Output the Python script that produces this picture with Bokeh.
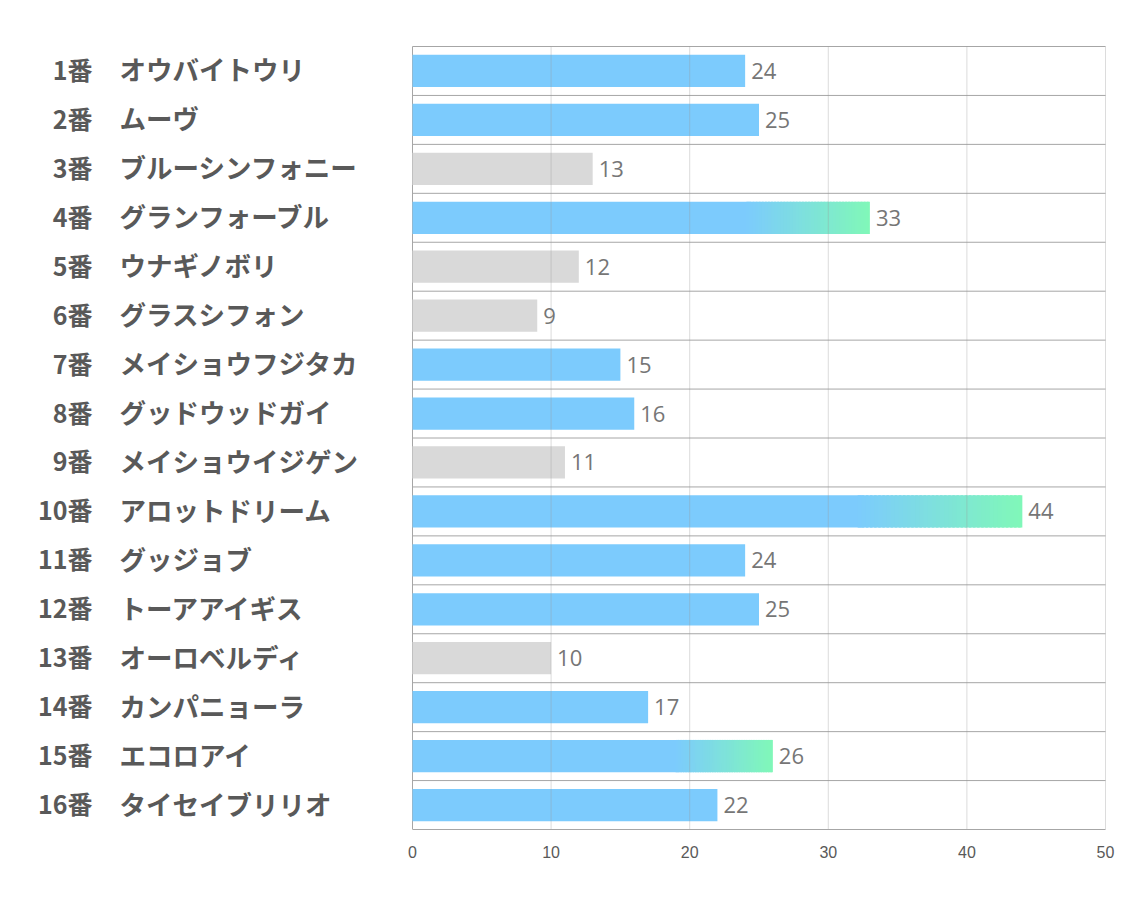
from bokeh.plotting import figure
from bokeh.models import Range1d, FixedTicker
from bokeh.core.properties import value
from bokeh.embed import file_html
from bokeh.resources import INLINE

# ---- data ----
numbers = ["1番", "2番", "3番", "4番", "5番", "6番", "7番", "8番",
           "9番", "10番", "11番", "12番", "13番", "14番", "15番", "16番"]
names = ["オウバイトウリ", "ムーヴ", "ブルーシンフォニー", "グランフォーブル",
         "ウナギノボリ", "グラスシフォン", "メイショウフジタカ", "グッドウッドガイ",
         "メイショウイジゲン", "アロットドリーム", "グッジョブ", "トーアアイギス",
         "オーロベルディ", "カンパニョーラ", "エコロアイ", "タイセイブリリオ"]
values = [24, 25, 13, 33, 12, 9, 15, 16, 11, 44, 24, 25, 10, 17, 26, 22]
kinds = ["blue", "blue", "gray", "grad", "gray", "gray", "blue", "blue",
         "gray", "grad", "blue", "blue", "gray", "blue", "grad", "blue"]
x_ticks = [0, 10, 20, 30, 40, 50]

BLUE = (124, 203, 253)
GREEN = (128, 248, 184)
GRAY = "#d9d9d9"

n = len(values)
k = (1105 - 412) / 50.0          # px per unit
row_h = (829 - 46) / n

p = figure(width=1134, height=907, output_backend="svg", toolbar_location=None,
           x_range=Range1d(-412 / k, (1134 - 412) / k),
           y_range=Range1d(n, -46 / row_h),
           y_axis_location=None, min_border_left=0, min_border_right=0,
           min_border_top=0, min_border_bottom=78)
p.outline_line_color = None
p.xgrid.visible = False
p.ygrid.visible = False

ys = [i + 0.5 for i in range(n)]

# horizontal row lines
hy = list(range(n))
p.segment(x0=[0] * len(hy), x1=[50] * len(hy), y0=hy, y1=hy,
          line_color="#a6a6a6", line_width=1)
# left line
p.segment(x0=[0], x1=[0], y0=[0], y1=[n], line_color="#a6a6a6", line_width=1)

# bars
bar_h = 0.66
N = 40
solid_y, solid_r, solid_c = [], [], []
for y, v, kd in zip(ys, values, kinds):
    if kd == "gray":
        solid_y.append(y); solid_r.append(v); solid_c.append(GRAY)
    elif kd == "blue":
        solid_y.append(y); solid_r.append(v); solid_c.append("#%02x%02x%02x" % BLUE)
    else:
        solid_y.append(y); solid_r.append(v * 0.73 + v * 0.27 / N)
        solid_c.append("#%02x%02x%02x" % BLUE)
p.hbar(y=solid_y, left=0, right=solid_r, height=bar_h, fill_color=solid_c,
       line_color=None)

gy, gl, gr, gc = [], [], [], []
for y, v, kd in zip(ys, values, kinds):
    if kd != "grad":
        continue
    start = v * 0.73
    span = v - start
    for j in range(N):
        t = (j + 0.5) / N
        c = tuple(int(round(BLUE[m] + (GREEN[m] - BLUE[m]) * t)) for m in range(3))
        gy.append(y)
        gl.append(start + span * j / N)
        gr.append(start + span * (j + 1) / N + (span / N * 0.6 if j < N - 1 else 0))
        gc.append("#%02x%02x%02x" % c)
p.hbar(y=gy, left=gl, right=gr, height=bar_h, fill_color=gc, line_color=None)

# vertical grid lines (drawn above bars, faint)
vx = x_ticks[1:]
p.segment(x0=vx, x1=vx, y0=[0] * len(vx), y1=[n] * len(vx),
          line_color="#9a9a9a", line_alpha=0.35, line_width=1)

# value labels
p.text(x=values, y=ys, text=[str(v) for v in values], x_offset=6,
       text_align="left", text_baseline="middle",
       text_font=value("Open Sans"), text_font_size="22px",
       text_color="#767676")

# category labels
p.text(x=[0] * n, y=ys, text=numbers, x_offset=-(412 - 92), y_offset=-2,
       text_align="right", text_baseline="middle",
       text_font=value("Noto Sans CJK JP"), text_font_style="bold",
       text_font_size="25px", text_color="#595959")
p.text(x=[0] * n, y=ys, text=names, x_offset=-(412 - 119), y_offset=-2,
       text_align="left", text_baseline="middle",
       text_font=value("Noto Sans CJK JP"), text_font_style="bold",
       text_font_size="26.5px", text_color="#595959")

ax = p.xaxis[0]
ax.ticker = FixedTicker(ticks=x_ticks)
ax.bounds = (0, 50)
ax.major_tick_out = 0
ax.major_tick_in = 0
ax.minor_tick_line_color = None
ax.axis_line_color = "#a6a6a6"
ax.major_label_standoff = 16
ax.major_label_text_font = "Liberation Sans"
ax.major_label_text_font_size = "16px"
ax.major_label_text_color = "#595959"

open("out.html", "w").write(file_html(p, INLINE))
